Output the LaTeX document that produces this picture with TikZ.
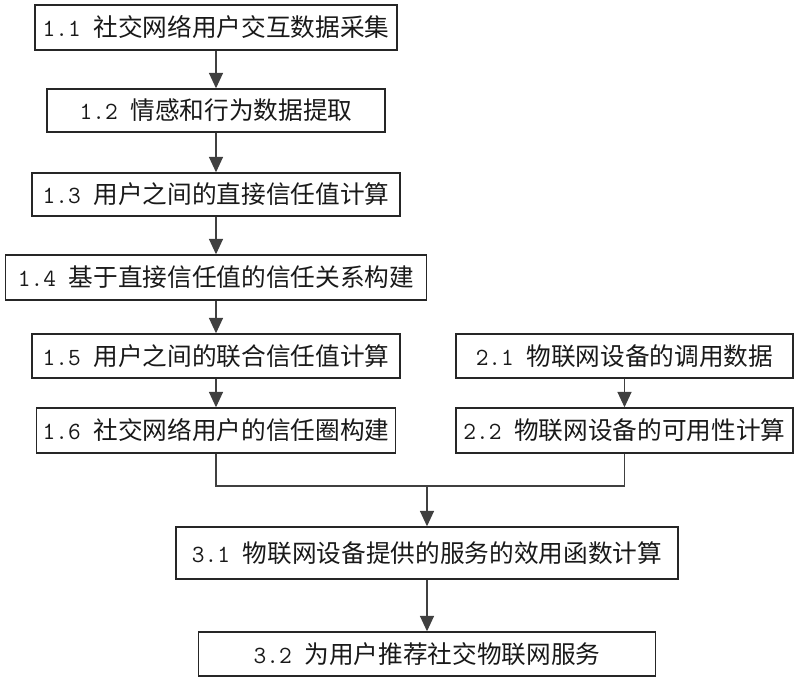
\documentclass[tikz,border=0pt]{standalone}
\usepackage{fontspec}
\newfontfamily\cjk{Noto Sans CJK SC}
\usetikzlibrary{arrows.meta}

\tikzset{
  blk/.style={draw=black!85, line width=1.1pt, inner sep=0pt, text=black!90, font=\fontsize{18.5}{22}\selectfont},
  arr/.style={draw=black!75, line width=0.9pt, -{Triangle[width=10.5pt,length=11.5pt]}},
  ln/.style={draw=black!75, line width=0.9pt}
}

\begin{document}
\begin{tikzpicture}[x=0.75pt,y=0.75pt,yscale=-1,xscale=1]
\useasboundingbox (0,0) rectangle (800,682);

% left column
\node [blk, minimum width=271.5pt, minimum height=33.75pt] (b11) at (216,27.5) {\ttfamily 1.1 \cjk 社交网络用户交互数据采集};
\node [blk, minimum width=253.5pt, minimum height=32.25pt] (b12) at (216,110.5) {\ttfamily 1.2 \cjk 情感和行为数据提取};
\node [blk, minimum width=276pt, minimum height=32.25pt] (b13) at (216,194.5) {\ttfamily 1.3 \cjk 用户之间的直接信任值计算};
\node [blk, minimum width=315.75pt, minimum height=33.75pt] (b14) at (216,277.5) {\ttfamily 1.4 \cjk 基于直接信任值的信任关系构建};
\node [blk, minimum width=276pt, minimum height=33pt] (b15) at (216,356) {\ttfamily 1.5 \cjk 用户之间的联合信任值计算};
\node [blk, minimum width=269.25pt, minimum height=33.75pt] (b16) at (216,430.5) {\ttfamily 1.6 \cjk 社交网络用户的信任圈构建};

% right column
\node [blk, minimum width=252.75pt, minimum height=33pt] (b21) at (624.5,356) {\ttfamily 2.1 \cjk 物联网设备的调用数据};
\node [blk, minimum width=252.75pt, minimum height=33.75pt] (b22) at (624.5,430.5) {\ttfamily 2.2 \cjk 物联网设备的可用性计算};

% bottom
\node [blk, minimum width=376.5pt, minimum height=39pt] (b31) at (427,553) {\ttfamily 3.1 \cjk 物联网设备提供的服务的效用函数计算};
\node [blk, minimum width=342.75pt, minimum height=33pt] (b32) at (427,654) {\ttfamily 3.2 \cjk 为用户推荐社交物联网服务};

% arrows
\draw [arr] (b11) -- (b12);
\draw [arr] (b12) -- (b13);
\draw [arr] (b13) -- (b14);
\draw [arr] (b14) -- (b15);
\draw [arr] (b15) -- (b16);
\draw [arr] (b21) -- (b22);

% merge
\coordinate (mg) at (427,486);
\draw [ln] (b16.south) |- (mg);
\draw [ln] (b22.south) |- (mg);
\draw [arr] (mg) -- (b31);
\draw [arr] (b31) -- (b32);

\end{tikzpicture}
\end{document}
